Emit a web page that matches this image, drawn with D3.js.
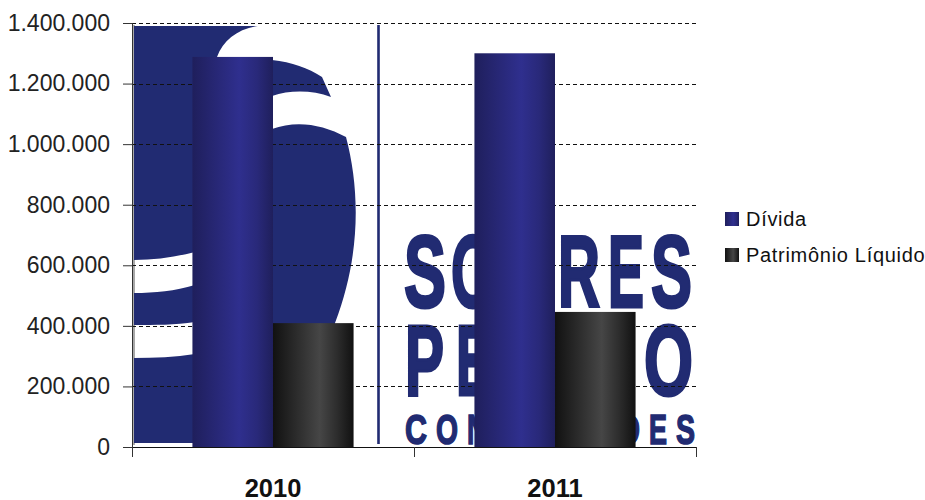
<!DOCTYPE html>
<html>
<head>
<meta charset="utf-8">
<script src="https://cdn.jsdelivr.net/npm/d3@7"></script>
<style>
html,body{margin:0;padding:0;background:#fff}
svg{display:block}
text{font-family:"Liberation Sans",Arial,sans-serif}
</style>
</head>
<body>
<svg id="chart" width="925" height="500"></svg>
<script>
// Chart values
const years = ["2010", "2011"];
const seriesNames = ["Dívida", "Patrimônio Líquido"];
const divida = [1288000, 1300000];
const patrimonio = [409000, 446000];
const yTicks = [0, 200000, 400000, 600000, 800000, 1000000, 1200000, 1400000];

const svg = d3.select("#chart");
const plot = {left: 132, right: 696, top: 23, bottom: 447};
const brandBlue = "#212b72";

const y = d3.scaleLinear().domain([0, 1400000]).range([plot.bottom, plot.top]);
const x0 = d3.scaleBand().domain(years).range([plot.left, plot.right]);
const x1 = d3.scaleBand().domain(seriesNames).range([0, x0.bandwidth()]).paddingInner(0).paddingOuter(0.75);
const ptBR = d3.formatLocale({decimal: ",", thousands: ".", grouping: [3], currency: ["R$", ""]});

// Horizontal shading for the cylinder-like bars and legend swatches
const defs = svg.append("defs");
function shade(id, edge, mid, center) {
  const g = defs.append("linearGradient").attr("id", id);
  g.append("stop").attr("offset", "0%").attr("stop-color", edge);
  g.append("stop").attr("offset", "58%").attr("stop-color", center);
  g.append("stop").attr("offset", "80%").attr("stop-color", mid);
  g.append("stop").attr("offset", "100%").attr("stop-color", edge);
}
shade("fillDivida", "#1f1f5c", "#29297a", "#2f2f8e");
shade("fillPatrimonio", "#111111", "#2c2c2c", "#464646");
const fills = {"Dívida": "url(#fillDivida)", "Patrimônio Líquido": "url(#fillPatrimonio)"};

// Watermark: company emblem, divider and lettering behind the plot
const logo = svg.append("g").attr("class", "watermark");
logo.append("rect").attr("x", 132.5).attr("y", 25).attr("width", 2.5).attr("height", 420).attr("fill", "#a8a8a8");
logo.append("path").attr("fill", brandBlue).attr("d",
  "M134,26 L258,26 C237,29 223,41 217,57 L272,60 C292,62 308,68 322,77 L331,97 " +
  "C312,90 290,90 272,96 L272,129 C296,120 322,124 346,137 C360,190 361,255 335,323 " +
  "L330,443 L134,443 L134,358 C155,358 175,357 195,354 L195,322 C175,325 155,325 134,325 " +
  "L134,293 C155,293 175,291 195,285 L195,252 C175,257 155,260 134,260 Z");
logo.append("rect").attr("x", 377.2).attr("y", 25).attr("width", 2.6).attr("height", 419).attr("fill", brandBlue);

// Only the lettering that shows beside the bars is drawn
const logoLines = [
  {top: 236, bottom: 308, weight: 3.2, glyphs: [["S", 404, 42], ["O", 451, 44], ["R", 558, 42], ["E", 608, 36], ["S", 651, 41]]},
  {top: 326, bottom: 396, weight: 3.2, glyphs: [["P", 405, 39], ["E", 456, 36], ["O", 644, 49]]},
  {top: 414, bottom: 444, weight: 1.6, glyphs: [["C", 405, 22], ["O", 436, 22], ["N", 467, 20], ["D", 619, 21], ["E", 649, 18], ["S", 676, 19]]}
];
logoLines.forEach(line => {
  const size = (line.bottom - line.top) / 0.70;
  line.glyphs.forEach(([ch, gx, gw]) => {
    logo.append("text")
      .attr("x", gx).attr("y", line.bottom - (line.bottom - line.top) * 0.012)
      .attr("font-size", size).attr("font-weight", 700)
      .attr("fill", brandBlue).attr("stroke", brandBlue).attr("stroke-width", line.weight)
      .attr("textLength", gw).attr("lengthAdjust", "spacingAndGlyphs")
      .text(ch);
  });
});

// Dashed gridlines
svg.append("g").selectAll("line").data(yTicks.filter(d => d > 0)).join("line")
  .attr("x1", plot.left).attr("x2", plot.right)
  .attr("y1", d => Math.round(y(d)) + 0.5).attr("y2", d => Math.round(y(d)) + 0.5)
  .attr("stroke", "#111").attr("stroke-width", 1).attr("stroke-dasharray", "4,3");

// Bars
const rows = [divida, patrimonio];
const groups = svg.append("g").selectAll("g").data(years).join("g")
  .attr("transform", d => `translate(${x0(d)},0)`);
groups.selectAll("rect")
  .data((d, i) => seriesNames.map((s, k) => ({s, v: rows[k][i]})))
  .join("rect")
  .attr("x", d => x1(d.s)).attr("width", x1.bandwidth())
  .attr("y", d => y(d.v)).attr("height", d => y(0) - y(d.v))
  .attr("fill", d => fills[d.s]);

// Axes
const yAxis = d3.axisLeft(y).tickValues(yTicks).tickFormat(ptBR.format(",d")).tickSize(9).tickPadding(13);
const yG = svg.append("g").attr("transform", `translate(${plot.left},0)`).call(yAxis);
yG.selectAll("text").attr("font-size", 23).attr("fill", "#222").style("font-family", '"Liberation Sans",Arial,sans-serif');
yG.selectAll("line,path").attr("stroke", "#333");

const xAxis = d3.axisBottom(x0).tickSize(0).tickPadding(32);
const xG = svg.append("g").attr("transform", `translate(0,${plot.bottom})`).call(xAxis);
xG.selectAll("text").attr("font-size", 25.5).attr("font-weight", 700).attr("fill", "#111").style("font-family", '"Liberation Sans",Arial,sans-serif');
xG.selectAll("path").attr("stroke", "#111").attr("d", `M${plot.left},0.5H${plot.right}`);
xG.selectAll(".edge").data([plot.left, plot.left + x0.step(), plot.right]).join("line").attr("class", "edge")
  .attr("x1", d => d + 0.5).attr("x2", d => d + 0.5).attr("y1", 0).attr("y2", 10).attr("stroke", "#333");

// Legend
const legend = svg.append("g").selectAll("g").data(seriesNames).join("g")
  .attr("transform", (d, i) => `translate(725,${219 + i * 36})`);
legend.append("rect").attr("x", 0).attr("y", -7).attr("width", 14).attr("height", 14).attr("fill", d => fills[d]);
legend.append("text").attr("x", 21).attr("y", 7).attr("font-size", 20).attr("letter-spacing", 0.7).attr("fill", "#111").text(d => d);
</script>
</body>
</html>
